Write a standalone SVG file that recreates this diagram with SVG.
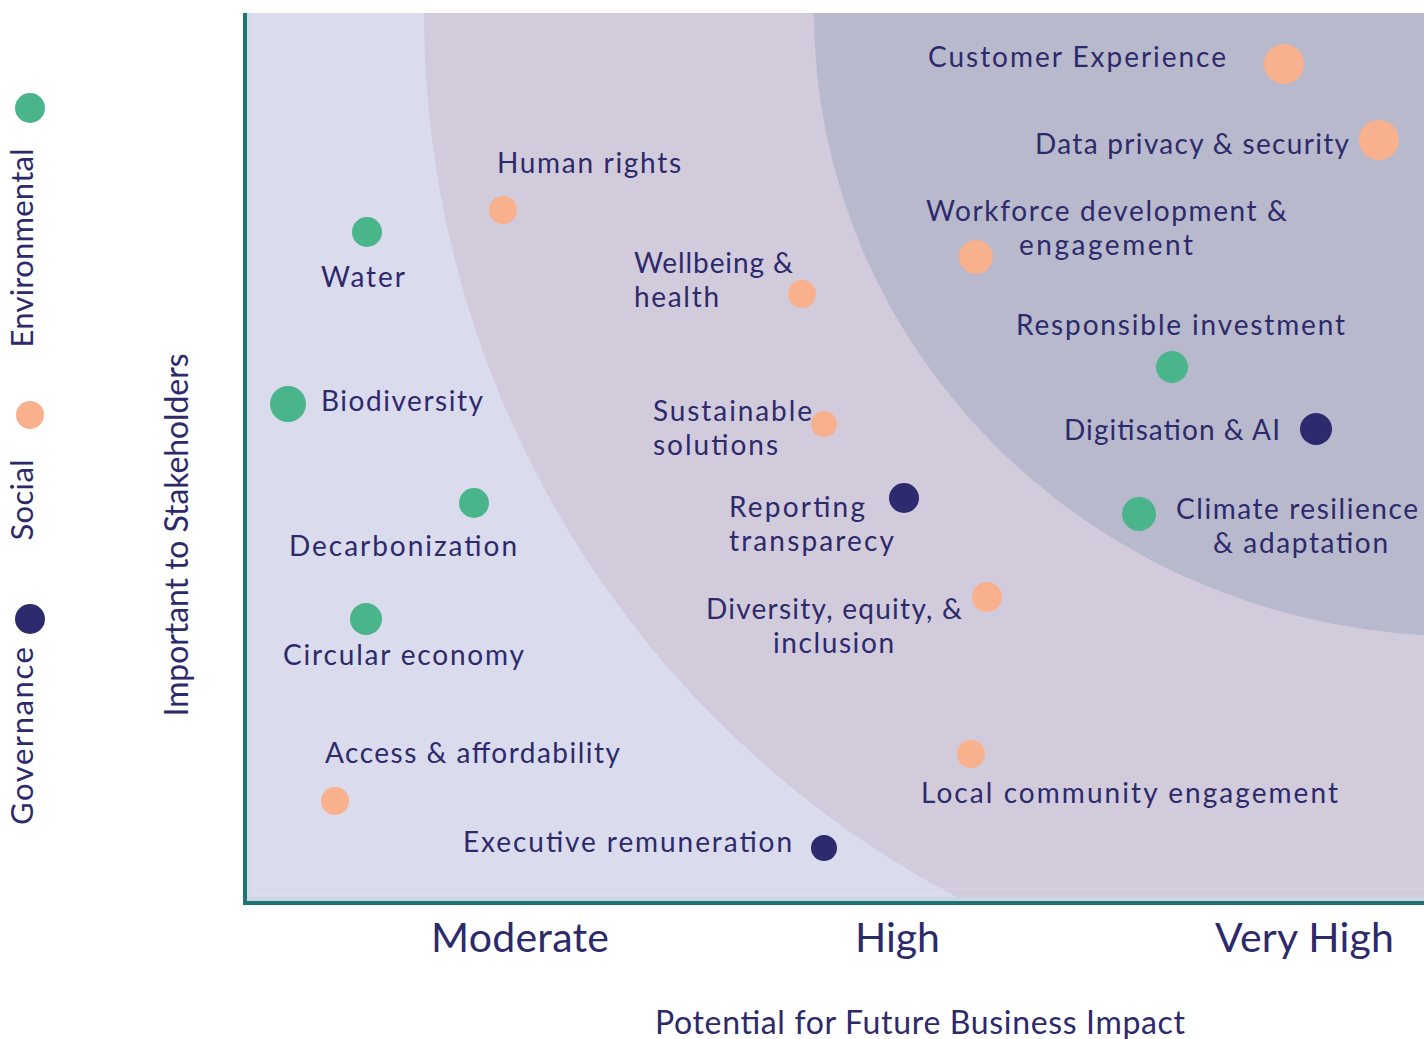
<svg xmlns="http://www.w3.org/2000/svg" width="1424" height="1039" viewBox="0 0 1424 1039">
<style>
text{font-family:Lato,"Open Sans","Liberation Sans",sans-serif;fill:#2d2a6b}
.lbl{font-size:28px}
.tick{font-size:41px}
.axis{font-size:32px}
.leg{font-size:31px}
.env{fill:#4ab48a}
.soc{fill:#f9b08c}
.gov{fill:#2e2a6e}
</style>
<defs>
<clipPath id="plot"><rect x="247" y="13" width="1177" height="890"/></clipPath>
</defs>
<rect width="1424" height="1039" fill="#ffffff"/>
<g id="background" clip-path="url(#plot)">
<rect x="247" y="13" width="1177" height="890" fill="#dadbed"/>
<circle cx="1424" cy="13" r="1000" fill="#d2cbdc"/>
<ellipse cx="1460" cy="13" rx="646" ry="623" fill="#b8b9cc"/>
<rect x="247" y="13" width="5" height="890" fill="#d0dce7"/>
<rect x="247" y="888" width="1177" height="2" fill="#dcd4e6" opacity="0.6"/>
<rect x="247" y="897" width="1177" height="6" fill="#cdd6e4"/>
</g>
<g id="axes" fill="#1e7373">
<rect x="243" y="13" width="4" height="892"/>
<rect x="243" y="901" width="1181" height="4"/>
</g>
<g id="legend">
<circle class="env" cx="30" cy="108" r="15"/>
<text class="leg" text-anchor="middle" transform="translate(33,248) rotate(-90)" textLength="199">Environmental</text>
<circle class="soc" cx="30" cy="415" r="14"/>
<text class="leg" text-anchor="middle" transform="translate(33,500) rotate(-90)" textLength="81">Social</text>
<circle class="gov" cx="30" cy="619" r="15"/>
<text class="leg" text-anchor="middle" transform="translate(33,736) rotate(-90)" textLength="178">Governance</text>
</g>
<g id="axis-labels">
<text class="axis" text-anchor="middle" transform="translate(188,535) rotate(-90)" textLength="363">Important to Stakeholders</text>
<text class="tick" x="431" y="952" textLength="178">Moderate</text>
<text class="tick" x="855" y="952" textLength="85">High</text>
<text class="tick" x="1215" y="952" textLength="179">Very High</text>
<text class="axis" x="655" y="1034" textLength="530">Potential for Future Business Impact</text>
</g>
<g id="node-customer-experience">
<circle class="soc" cx="1284" cy="64" r="20"/>
<text class="lbl" x="928" y="67" textLength="298">Customer Experience</text>
</g>
<g id="node-data-privacy">
<circle class="soc" cx="1379" cy="140" r="20"/>
<text class="lbl" x="1035" y="154" textLength="314">Data privacy &amp; security</text>
</g>
<g id="node-workforce">
<circle class="soc" cx="976" cy="257" r="17"/>
<text class="lbl"><tspan x="926" y="221" textLength="361">Workforce development &amp;</tspan><tspan x="1019" y="255" textLength="174">engagement</tspan></text>
</g>
<g id="node-responsible-investment">
<circle class="env" cx="1172" cy="367" r="16"/>
<text class="lbl" x="1016" y="335" textLength="329">Responsible investment</text>
</g>
<g id="node-digitisation">
<circle class="gov" cx="1316" cy="429" r="16"/>
<text class="lbl" x="1064" y="440" textLength="216">Digitisation &amp; AI</text>
</g>
<g id="node-climate">
<circle class="env" cx="1139" cy="514" r="17"/>
<text class="lbl"><tspan x="1176" y="519" textLength="242">Climate resilience</tspan><tspan x="1213" y="553" textLength="175">&amp; adaptation</tspan></text>
</g>
<g id="node-human-rights">
<circle class="soc" cx="503" cy="210" r="14"/>
<text class="lbl" x="497" y="173" textLength="184">Human rights</text>
</g>
<g id="node-wellbeing">
<circle class="soc" cx="802" cy="294" r="14"/>
<text class="lbl"><tspan x="634" y="273" textLength="159">Wellbeing &amp;</tspan><tspan x="634" y="307" textLength="85">health</tspan></text>
</g>
<g id="node-water">
<circle class="env" cx="367" cy="232" r="15"/>
<text class="lbl" x="321" y="287" textLength="84">Water</text>
</g>
<g id="node-biodiversity">
<circle class="env" cx="288" cy="404" r="18"/>
<text class="lbl" x="321" y="411" textLength="162">Biodiversity</text>
</g>
<g id="node-sustainable-solutions">
<circle class="soc" cx="824" cy="424" r="13"/>
<text class="lbl"><tspan x="653" y="421" textLength="159">Sustainable</tspan><tspan x="653" y="455" textLength="125">solutions</tspan></text>
</g>
<g id="node-decarbonization">
<circle class="env" cx="474" cy="503" r="15"/>
<text class="lbl" x="289" y="556" textLength="228">Decarbonization</text>
</g>
<g id="node-reporting">
<circle class="gov" cx="904" cy="498" r="15"/>
<text class="lbl"><tspan x="729" y="517" textLength="136">Reporting</tspan><tspan x="729" y="551" textLength="165">transparecy</tspan></text>
</g>
<g id="node-dei">
<circle class="soc" cx="987" cy="597" r="15"/>
<text class="lbl"><tspan x="706" y="619" textLength="256">Diversity, equity, &amp;</tspan><tspan x="773" y="653" textLength="121">inclusion</tspan></text>
</g>
<g id="node-circular-economy">
<circle class="env" cx="366" cy="619" r="16"/>
<text class="lbl" x="283" y="665" textLength="241">Circular economy</text>
</g>
<g id="node-local-community">
<circle class="soc" cx="971" cy="754" r="14"/>
<text class="lbl" x="921" y="803" textLength="417">Local community engagement</text>
</g>
<g id="node-access">
<circle class="soc" cx="335" cy="801" r="14"/>
<text class="lbl" x="325" y="763" textLength="295">Access &amp; affordability</text>
</g>
<g id="node-executive-remuneration">
<circle class="gov" cx="824" cy="848" r="13"/>
<text class="lbl" x="463" y="852" textLength="329">Executive remuneration</text>
</g>
</svg>
